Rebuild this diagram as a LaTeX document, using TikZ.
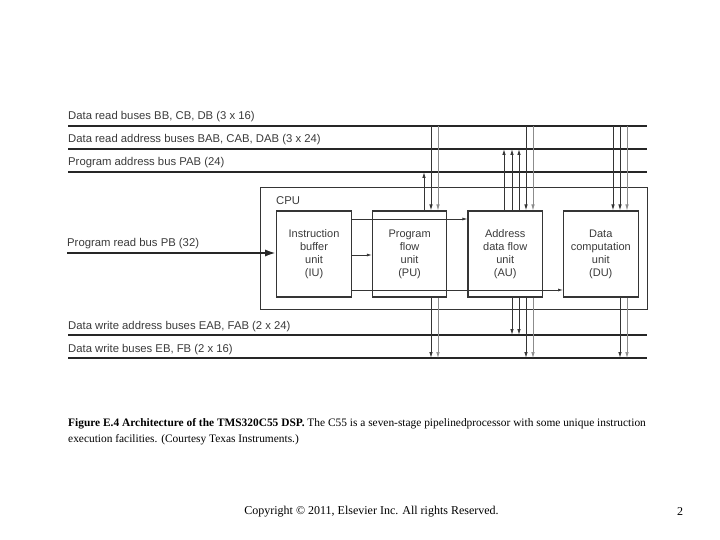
\documentclass[tikz,border=0pt]{standalone}
\usepackage{fontspec}
\setmainfont{Liberation Serif}
\setsansfont{Liberation Sans}
\usetikzlibrary{arrows.meta,positioning}
\definecolor{tmsdark}{HTML}{262626}
\definecolor{tmsgray}{HTML}{353535}
\definecolor{tmslight}{HTML}{8C8C8C}
\definecolor{tmsink}{HTML}{3A3A3A}
\tikzset{%
  tmsbus/.style={line width=2.8pt,draw=tmsdark},
  tmslabel/.style={%
    anchor=base west,
    inner sep=0pt,
    text=tmsink,
    font=\sffamily\fontsize{11.3}{13}\selectfont
  },
  tmsunit/.style={%
    draw=tmsgray,
    line width=1.1pt,
    minimum width=74.5pt,
    minimum height=86pt,
    align=center,
    text=tmsink,
    font=\sffamily\fontsize{11}{13}\selectfont
  },
  tmscpu/.style={draw=tmsgray,line width=0.8pt,minimum width=387pt,minimum height=122pt},
  tmstap/.style={draw=tmsgray,line width=0.9pt,-{Latex[length=6pt,width=3.5pt]}},
  tmstaplight/.style={tmstap,draw=tmslight,line width=0.7pt},
  tmsflow/.style={draw=tmsgray,line width=0.7pt,-{Latex[length=5pt,width=3pt]}}
}
\begin{document}
\begin{tikzpicture}[x=1pt,y=-1pt]
  \useasboundingbox (0,0) rectangle (720,540);

  % CPU outline and its four units
  \node[tmscpu] (cpu) at (453.5,248) {};
  \node[tmslabel,anchor=north west] (cpulab) at (276,196) {CPU};
  \node[tmsunit] (iu) at (314,254) {Instruction\\buffer\\unit\\(IU)};
  \node[tmsunit,right=20pt of iu] (pu) {Program\\flow\\unit\\(PU)};
  \node[tmsunit,right=20pt of pu] (au) {Address\\data flow\\unit\\(AU)};
  \node[tmsunit,right=20pt of au] (du) {Data\\computation\\unit\\(DU)};

  % buses
  \foreach \name/\yy/\up/\txt in {%
      rd/126/6.5/{Data read buses BB, CB, DB (3 x 16)},
      ra/149/6.5/{Data read address buses BAB, CAB, DAB (3 x 24)},
      pa/172/6.5/{Program address bus PAB (24)},
      wa/335/5.5/{Data write address buses EAB, FAB (2 x 24)},
      wd/358/5.5/{Data write buses EB, FB (2 x 16)}} {
    \coordinate (\name-l) at (68,\yy);
    \coordinate (\name-r) at (647,\yy);
    \draw[tmsbus] (\name-l) -- (\name-r);
    \node[tmslabel] (\name-lab) at ([yshift=\up pt]\name-l) {\txt};
  }
  \coordinate (pb-l) at (67,253);
  \draw[tmsbus,-{Latex[length=11pt,width=7pt]}] (pb-l) -- (pb-l -| iu.west);
  \node[tmslabel] (pb-lab) at ([yshift=6pt]pb-l) {Program read bus PB (32)};

  % IU to the other units
  \draw[tmsflow] ([yshift=35pt]iu.east) -- ([yshift=35pt]iu.east -| au.west);
  \draw[tmsflow] ([yshift=-1pt]iu.east) -- ([yshift=-1pt]iu.east -| pu.west);
  \draw[tmsflow] ([yshift=-36pt]iu.east) -- ([yshift=-36pt]iu.east -| du.west);

  % read side
  \foreach \xx/\unit in {431/pu,526/au,613/du,620/du}
    \draw[tmstap] (\xx,0 |- rd-l) -- (\xx,0 |- \unit.north);
  \foreach \xx/\unit in {438/pu,533/au,627/du}
    \draw[tmstaplight] (\xx,0 |- rd-l) -- (\xx,0 |- \unit.north);
  \draw[tmstap] (424,0 |- pu.north) -- (424,0 |- pa-l);
  \foreach \xx in {504,512,519}
    \draw[tmstap] (\xx,0 |- au.north) -- (\xx,0 |- ra-l);

  % write side
  \foreach \xx/\unit in {431/pu,526/au,620/du}
    \draw[tmstap] (\xx,0 |- \unit.south) -- (\xx,0 |- wd-l);
  \foreach \xx/\unit in {438/pu,533/au,627/du}
    \draw[tmstaplight] (\xx,0 |- \unit.south) -- (\xx,0 |- wd-l);
  \foreach \xx in {512,519}
    \draw[tmstap] (\xx,0 |- au.south) -- (\xx,0 |- wa-l);

  % caption and footer
  \node[anchor=north west,inner sep=0pt,align=left,font=\fontsize{11.4}{16}\selectfont] (caption) at (68,418)
    {\textbf{Figure E.4 Architecture of the TMS320C55 DSP.} The C55 is a seven-stage pipelinedprocessor with some unique instruction\\
     execution facilities. (Courtesy Texas Instruments.)};
  \node[inner sep=0pt,font=\fontsize{12}{14}\selectfont] (copyright) at (371.5,512) {Copyright \textcopyright{} 2011, Elsevier Inc. All rights Reserved.};
  \node[inner sep=0pt,font=\fontsize{12}{14}\selectfont] (pagenum) at (680,512) {2};
\end{tikzpicture}
\end{document}
